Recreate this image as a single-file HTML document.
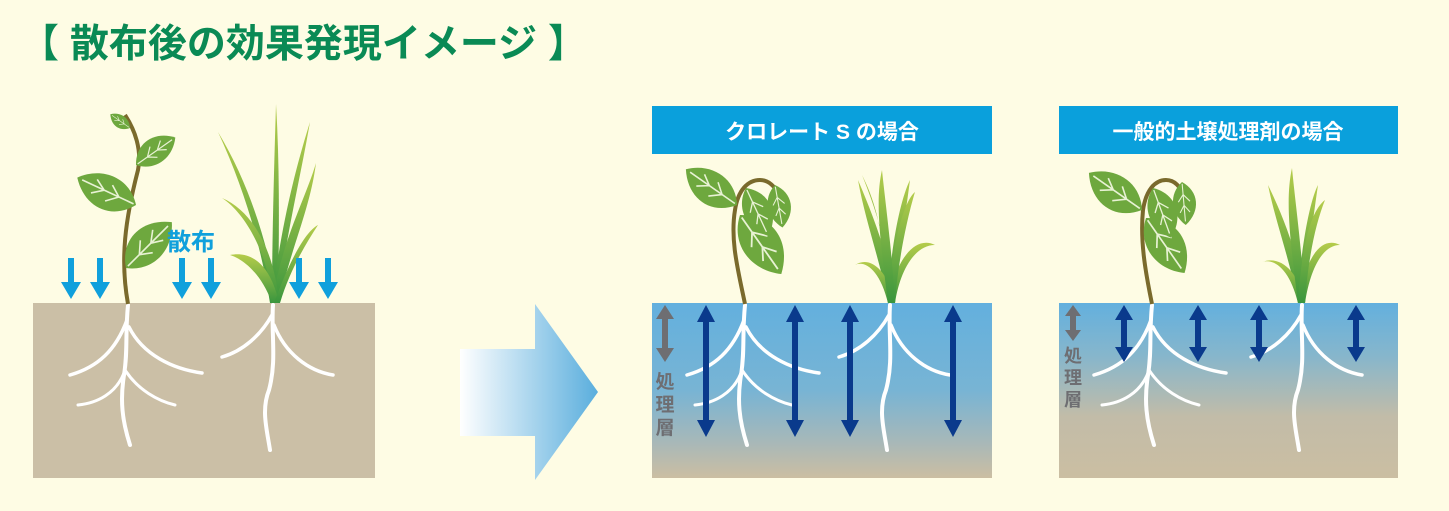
<!DOCTYPE html>
<html><head><meta charset="utf-8"><style>
html,body{margin:0;padding:0;background:#fefce4;}
svg{display:block;}
text{font-family:"Liberation Sans","Noto Sans CJK JP",sans-serif;font-weight:bold;}
</style></head><body>
<svg width="1449" height="511" viewBox="0 0 1449 511" xmlns="http://www.w3.org/2000/svg">
<defs>
<linearGradient id="bigArrow" x1="0" x2="1" y1="0" y2="0">
<stop offset="0" stop-color="#ffffff"/><stop offset="1" stop-color="#5aaedd"/></linearGradient>
<linearGradient id="soil2" x1="0" x2="0" y1="0" y2="1">
<stop offset="0" stop-color="#63b0de"/><stop offset="0.5" stop-color="#78b4d4"/><stop offset="0.8" stop-color="#a8b8b8"/><stop offset="1" stop-color="#cbbea2"/></linearGradient>
<linearGradient id="soil3" x1="0" x2="0" y1="0" y2="1">
<stop offset="0" stop-color="#63b0de"/><stop offset="0.3" stop-color="#86b6cc"/><stop offset="0.65" stop-color="#c2bca8"/><stop offset="1" stop-color="#cbbea2"/></linearGradient>
<linearGradient id="grass" x1="0" x2="0" y1="0" y2="1">
<stop offset="0" stop-color="#b5cc4a"/><stop offset="1" stop-color="#3a963e"/></linearGradient>
<g id="leaf"><path d="M0,0 C12,-18 34,-18 48,0 C34,16 12,16 0,0Z" fill="#6ea83e"/><path d="M2,0 L44,0 M14,0 L22,-7 M26,0 L34,-6 M14,0 L22,6 M26,0 L34,5" stroke="#e8f2d4" stroke-width="1.2" fill="none"/></g>
<g id="rootsA" fill="none" stroke="#fff" stroke-linecap="round">
<path d="M0,0 C-3,30 0,45 -4,70 C-8,95 -6,115 2,140" stroke-width="4"/>
<path d="M-1,15 C-12,45 -30,62 -58,70" stroke-width="3.5"/>
<path d="M1,22 C15,50 45,64 74,68" stroke-width="3.5"/>
<path d="M-4,68 C-12,88 -30,98 -50,100" stroke-width="3"/>
<path d="M-3,65 C10,85 30,96 47,100" stroke-width="3"/>
</g>
<g id="rootsB" fill="none" stroke="#fff" stroke-linecap="round">
<path d="M0,0 C-2,30 4,55 -4,85 C-12,105 -6,125 -3,145" stroke-width="4"/>
<path d="M-1,10 C-12,30 -30,46 -51,52" stroke-width="3.5"/>
<path d="M1,20 C12,48 35,66 60,70" stroke-width="3.5"/>
</g>
</defs>

<text x="20" y="57" font-size="39" fill="#0a8a55">【 散布後の効果発現イメージ 】</text>

<!-- Left panel -->
<rect x="33" y="303" width="342" height="175" fill="#cbbfa6"/>
<use href="#rootsA" x="128" y="305"/>
<use href="#rootsB" x="273" y="305"/>
<path d="M128,304 C120,260 125,220 138,170 C142,150 135,130 125,115" stroke="#7a6a2c" stroke-width="4" fill="none"/>
<use href="#leaf" transform="translate(126,268) rotate(-45) scale(1.35)"/>
<use href="#leaf" transform="translate(136,205) rotate(205) scale(1.35)"/>
<use href="#leaf" transform="translate(136,165) rotate(-35) scale(1.0)"/>
<use href="#leaf" transform="translate(130,128) rotate(215) scale(0.5)"/>
<g fill="url(#grass)">
<path d="M270,303 C262,250 245,190 218,132 C250,185 268,245 278,303Z"/>
<path d="M272,303 C272,240 274,170 276,104 C280,170 279,240 278,303Z"/>
<path d="M272,303 C280,230 295,170 310,122 C300,180 285,240 278,303Z"/>
<path d="M272,303 C282,240 305,200 316,163 C310,210 290,250 279,303Z"/>
<path d="M272,303 C270,260 248,215 222,198 C255,212 275,255 279,303Z"/>
<path d="M272,303 C260,270 240,258 230,255 C255,250 272,270 279,303Z"/>
<path d="M274,303 C290,260 305,232 318,225 C305,245 290,270 280,303Z"/>
</g>
<text x="167" y="250" font-size="24" fill="#10a0dc">散布</text>
<g fill="#10a0dc">
<path d="M68,258h6v24h7l-10,17l-10,-17h7z"/>
<path d="M97,258h6v24h7l-10,17l-10,-17h7z"/>
<path d="M179,258h6v24h7l-10,17l-10,-17h7z"/>
<path d="M208,258h6v24h7l-10,17l-10,-17h7z"/>
<path d="M296,258h6v24h7l-10,17l-10,-17h7z"/>
<path d="M325,258h6v24h7l-10,17l-10,-17h7z"/>
</g>

<!-- big arrow -->
<path d="M460,349 H535 V304 L598,392 L535,480 V436 H460Z" fill="url(#bigArrow)"/>

<!-- Panel 2 -->
<rect x="652" y="106" width="340" height="48" fill="#0aa0dc"/>
<text x="822" y="139" font-size="21" fill="#fff" text-anchor="middle">クロレート S の場合</text>
<rect x="652" y="303" width="340" height="175" fill="url(#soil2)"/>
<use href="#rootsA" x="745" y="305"/>
<use href="#rootsB" x="890" y="305"/>
<path d="M745,304 C738,270 730,240 735,210 C738,190 748,180 760,180 C770,180 775,188 780,195" stroke="#7a6a2c" stroke-width="4" fill="none"/>
<use href="#leaf" transform="translate(740,215) rotate(55) scale(1.5)"/>
<use href="#leaf" transform="translate(737,205) rotate(215) scale(1.3)"/>
<use href="#leaf" transform="translate(746,188) rotate(65) scale(1.1)"/>
<use href="#leaf" transform="translate(775,185) rotate(80) scale(0.9)"/>
<g fill="url(#grass)">
<path d="M888,303 C880,260 865,220 858,180 C875,220 890,260 895,303Z"/>
<path d="M888,303 C885,250 880,210 862,175 C870,195 888,240 895,303Z"/>
<path d="M888,303 C890,250 900,200 910,180 C905,220 897,260 895,303Z"/>
<path d="M888,303 C895,260 915,235 935,245 C915,245 900,270 895,303Z"/>
<path d="M888,303 C880,270 865,260 855,265 C870,255 888,270 895,303Z"/>
<path d="M888,303 C892,240 905,200 915,192 C908,215 898,260 895,303Z"/>
<path d="M888,303 C880,240 875,200 882,170 C885,200 892,250 895,303Z"/>
</g>
<g fill="#0a3a8c">
<path d="M706,305 l-9,17h6v98h-6l9,17l9,-17h-6v-98h6z"/>
<path d="M795,305 l-9,17h6v98h-6l9,17l9,-17h-6v-98h6z"/>
<path d="M850,305 l-9,17h6v98h-6l9,17l9,-17h-6v-98h6z"/>
<path d="M953,305 l-9,17h6v98h-6l9,17l9,-17h-6v-98h6z"/>
</g>
<path d="M665,305 l-9,14h6v29h-6l9,14l9,-14h-6v-29h6z" fill="#6e6e72"/>
<g font-size="19" fill="#6e6e72" text-anchor="middle"><text x="665" y="388">処</text><text x="665" y="411">理</text><text x="665" y="434">層</text></g>

<!-- Panel 3 -->
<rect x="1059" y="106" width="339" height="48" fill="#0aa0dc"/>
<text x="1228" y="139" font-size="21" fill="#fff" text-anchor="middle">一般的土壌処理剤の場合</text>
<rect x="1059" y="303" width="339" height="175" fill="url(#soil3)"/>
<use href="#rootsA" x="1152" y="305"/>
<use href="#rootsB" x="1302" y="305"/>
<path d="M1152,304 C1145,270 1140,240 1143,210 C1146,190 1155,180 1166,180 C1176,180 1180,188 1184,195" stroke="#7a6a2c" stroke-width="4" fill="none"/>
<use href="#leaf" transform="translate(1142,210) rotate(215) scale(1.35)"/>
<use href="#leaf" transform="translate(1146,218) rotate(55) scale(1.4)"/>
<use href="#leaf" transform="translate(1153,188) rotate(70) scale(1.1)"/>
<use href="#leaf" transform="translate(1182,182) rotate(85) scale(0.9)"/>
<g fill="url(#grass)">
<path d="M1298,303 C1290,260 1275,220 1268,185 C1285,220 1300,260 1305,303Z"/>
<path d="M1298,303 C1300,250 1310,200 1318,185 C1313,220 1307,260 1305,303Z"/>
<path d="M1298,303 C1305,260 1320,235 1340,245 C1322,245 1310,270 1305,303Z"/>
<path d="M1298,303 C1290,270 1275,258 1262,262 C1280,255 1298,270 1305,303Z"/>
<path d="M1298,303 C1290,240 1285,200 1292,168 C1295,200 1302,250 1305,303Z"/>
<path d="M1298,303 C1302,240 1312,210 1325,200 C1315,225 1308,260 1305,303Z"/>
</g>
<g fill="#0a3a8c">
<path d="M1124,305 l-9,15h6v27h-6l9,15l9,-15h-6v-27h6z"/>
<path d="M1198,305 l-9,15h6v27h-6l9,15l9,-15h-6v-27h6z"/>
<path d="M1259,305 l-9,15h6v27h-6l9,15l9,-15h-6v-27h6z"/>
<path d="M1356,305 l-9,15h6v27h-6l9,15l9,-15h-6v-27h6z"/>
</g>
<path d="M1073,305 l-8,11h5v14h-5l8,11l8,-11h-5v-14h5z" fill="#6e6e72"/>
<g font-size="18" fill="#6e6e72" text-anchor="middle"><text x="1073" y="362">処</text><text x="1073" y="384">理</text><text x="1073" y="406">層</text></g>
</svg>
</body></html>
